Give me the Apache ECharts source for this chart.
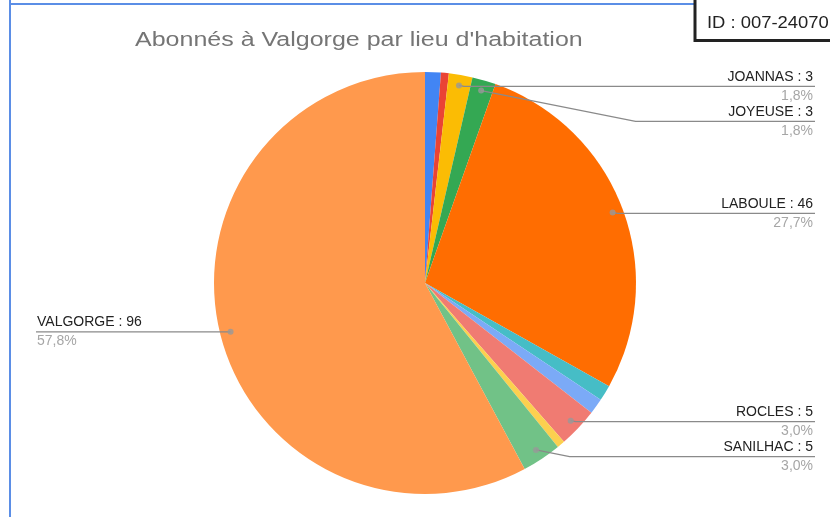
<!DOCTYPE html>
<html>
<head>
<meta charset="utf-8">
<script src="https://cdn.jsdelivr.net/npm/echarts@6/dist/echarts.min.js"></script>
<style>
  html, body { margin: 0; padding: 0; background: #fff; }
  #chart { width: 830px; height: 517px; }
</style>
</head>
<body>
<div id="chart"></div>
<script>
// lieux d'habitation, dans l'ordre du camembert (sens horaire depuis midi)
var lieux = ["(autre 1)", "(autre 2)", "JOANNAS", "JOYEUSE", "LABOULE", "(autre 3)", "(autre 4)", "ROCLES", "(autre 5)", "SANILHAC", "VALGORGE"];
var abonnes = [2, 1, 3, 3, 46, 2, 2, 5, 1, 5, 96];
var couleurs = ["#4285f4", "#ea4335", "#fbbc04", "#34a853", "#ff6d01", "#46bdc6", "#7baaf7", "#f07b72", "#fcd04f", "#71c287", "#ff994d"];
var avecEtiquette = [false, false, true, true, true, false, false, true, false, true, true];

var CX = 425, CY = 283, R = 211;
var BORD_DROIT = 813, BORD_GAUCHE = 37;
var POLICE = "Liberation Sans, Arial, sans-serif";

var total = abonnes.reduce(function (a, b) { return a + b; }, 0);

// milieu de chaque part, en valeur cumulee
var milieux = [];
var cumul = 0;
for (var i = 0; i < abonnes.length; i++) {
    milieux.push(cumul + abonnes[i] / 2);
    cumul += abonnes[i];
}

// position des points et des etiquettes
var placement = {};
var dernierY = -1000;
for (var i = 0; i < abonnes.length; i++) {
    if (!avecEtiquette[i]) continue;
    var a = milieux[i] / total * Math.PI * 2;
    var px = CX + 0.95 * R * Math.sin(a);
    var py = CY - 0.95 * R * Math.cos(a);
    if (Math.sin(a) >= 0) {
        var y = Math.max(py + 1, dernierY + 35);
        dernierY = y;
        var coude = Math.min(px + 5 * Math.abs(y - py), BORD_DROIT - 20);
        placement[i] = { x: BORD_DROIT, y: y, align: "right", points: [[px, py], [coude, y], [BORD_DROIT + 2, y]] };
    } else {
        placement[i] = { x: BORD_GAUCHE, y: py, align: "left", points: [[px, py], [px - 1, py], [BORD_GAUCHE - 1, py]] };
    }
}

function pourcent(v) {
    return (v / total * 100).toFixed(1).replace(".", ",") + "%";
}

var parts = lieux.map(function (nom, i) {
    return { name: nom, value: abonnes[i], itemStyle: { color: couleurs[i] } };
});

// meme decoupage, transparent, seulement pour les etiquettes (au-dessus des parts)
var etiquettes = lieux.map(function (nom, i) {
    var item = { name: nom, value: abonnes[i] };
    if (!avecEtiquette[i]) {
        item.label = { show: false };
        item.labelLine = { show: false };
    }
    return item;
});

var points = [];
for (var i = 0; i < abonnes.length; i++) {
    if (avecEtiquette[i]) points.push([0.95, milieux[i]]);
}

var chart = echarts.init(document.getElementById("chart"));
chart.setOption({
    animation: false,
    polar: { center: [CX, CY], radius: R },
    angleAxis: { type: "value", min: 0, max: total, startAngle: 90, clockwise: true, show: false },
    radiusAxis: { type: "value", min: 0, max: 1, show: false },
    graphic: [
        { type: "text", x: 135, y: 30, scaleX: 1.25, style: { text: "Abonnés à Valgorge par lieu d'habitation", font: "20px " + POLICE, fill: "#757575", verticalAlign: "top" }, z: 100 },
        { type: "line", shape: { x1: 10, y1: 0, x2: 10, y2: 517 }, style: { stroke: "#5b8ee6", lineWidth: 2 }, z: 100 },
        { type: "line", shape: { x1: 10, y1: 4, x2: 830, y2: 4 }, style: { stroke: "#5b8ee6", lineWidth: 2 }, z: 100 },
        { type: "rect", shape: { x: 695, y: -10, width: 150, height: 50.5 }, style: { fill: "#fff", stroke: "#222", lineWidth: 3 }, z: 101 },
        { type: "text", x: 707, y: 24, scaleX: 1.15, style: { text: "ID : 007-24070", font: "16px " + POLICE, fill: "#222", verticalAlign: "middle" }, z: 102 }
    ],
    series: [
        {
            type: "pie",
            center: [CX, CY],
            radius: R,
            startAngle: 90,
            clockwise: true,
            data: parts,
            label: { show: false },
            labelLine: { show: false },
            emphasis: { disabled: true },
            z: 2
        },
        {
            type: "pie",
            center: [CX, CY],
            radius: R,
            startAngle: 90,
            clockwise: true,
            avoidLabelOverlap: false,
            data: etiquettes,
            itemStyle: { color: "rgba(0,0,0,0)" },
            label: {
                show: true,
                position: "outside",
                fontFamily: POLICE,
                formatter: function (p) {
                    return "{n|" + p.name + " : " + p.value + "}\n{p|" + pourcent(p.value) + "}";
                },
                rich: {
                    n: { fontSize: 14, color: "#222", lineHeight: 19, fontFamily: POLICE },
                    p: { fontSize: 14, color: "#a6a6a6", lineHeight: 19, fontFamily: POLICE }
                }
            },
            labelLine: { show: true, length: 10, length2: 10, lineStyle: { color: "#8a8a8a", width: 1.3 } },
            labelLayout: function (params) {
                var L = placement[params.dataIndex];
                if (!L) return {};
                return { x: L.x, y: L.y, align: L.align, verticalAlign: "middle", labelLinePoints: L.points };
            },
            emphasis: { disabled: true },
            silent: true,
            z: 3
        },
        {
            type: "scatter",
            coordinateSystem: "polar",
            data: points,
            symbolSize: 6,
            itemStyle: { color: "#999" },
            z: 5,
            silent: true
        }
    ]
});
</script>
</body>
</html>
